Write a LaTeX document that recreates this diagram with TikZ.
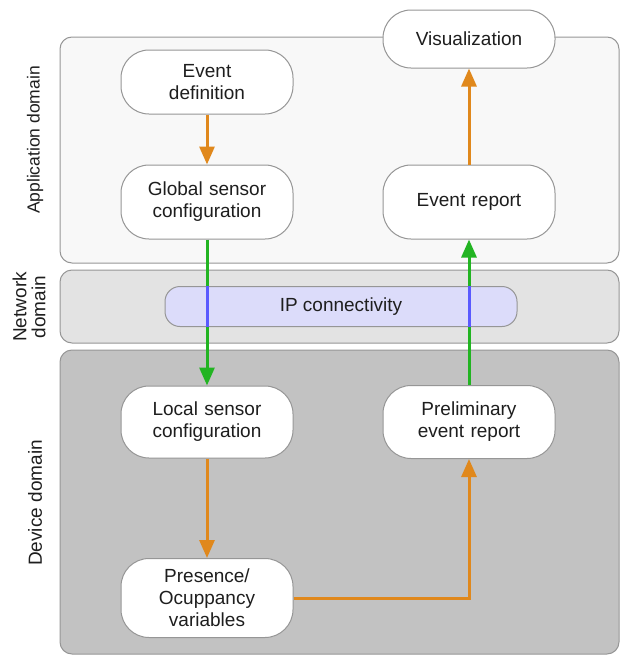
\documentclass[tikz,border=0pt]{standalone}
\usepackage{fontspec}
\setmainfont{Liberation Sans}
\usetikzlibrary{arrows.meta}
\definecolor{orng}{RGB}{224,136,28}
\definecolor{grn}{RGB}{34,180,34}
\definecolor{blu}{RGB}{90,90,255}
\definecolor{appfill}{RGB}{248,248,248}
\definecolor{netfill}{RGB}{227,227,227}
\definecolor{devfill}{RGB}{194,194,194}
\definecolor{edgegray}{RGB}{150,150,150}
\definecolor{ipfill}{RGB}{220,220,250}
\definecolor{txt}{RGB}{30,30,30}
\begin{document}
\begin{tikzpicture}[x=1pt,y=-1pt,
  font=\fontsize{19}{22}\selectfont,
  panel/.style={draw=edgegray, line width=1pt, rounded corners=12pt},
  box/.style={draw=edgegray, fill=white, line width=1pt, rounded corners=28pt,
    minimum width=172pt, text width=165pt, align=center, text=txt, inner sep=0pt},
  ipbox/.style={draw=edgegray, fill=ipfill, line width=1pt, rounded corners=15pt,
    minimum width=352pt, minimum height=40pt, text=txt, inner sep=0pt},
  domlabel/.style={rotate=90, align=center, text=txt, inner sep=0pt},
  arr/.style={line width=3pt, -{Triangle[length=18pt,width=15pt]}}]
\useasboundingbox (0,0) rectangle (622,656);
% panels
\draw[panel, fill=appfill] (60,37) rectangle (619,263);
\draw[panel, fill=netfill] (60,270) rectangle (619,343);
\draw[panel, fill=devfill] (60,350) rectangle (619,654);
% domain labels
\node[domlabel, font=\fontsize{17.5}{20}\selectfont] (lapp) at (35,140) {Application domain};
\node[domlabel, font=\fontsize{19}{19}\selectfont] (lnet) at (29,307) {Network\\domain};
\node[domlabel, font=\fontsize{19}{20}\selectfont] (ldev) at (35,503) {Device domain};
% nodes
\node[ipbox] (ip) at (341,306.5) {IP connectivity};
\node[box, minimum height=64pt] (evdef) at (207,82) {Event\\definition};
\node[box, minimum height=74pt] (glob) at (207,202) {Global sensor\\configuration};
\node[box, minimum height=58pt] (vis) at (469,39) {Visualization};
\node[box, minimum height=74pt] (rep) at (469,202) {Event report};
\node[box, minimum height=72pt] (local) at (207,422) {Local sensor\\configuration};
\node[box, minimum height=79pt] (pres) at (207,598) {Presence/\\Ocuppancy\\variables};
\node[box, minimum height=73pt] (prelim) at (469,422) {Preliminary\\event report};
% connectors
\draw[arr, orng] (evdef) -- (glob);
\draw[arr, grn] (glob) -- (local);
\draw[arr, orng] (local) -- (pres);
\draw[arr, orng] (pres.east) -| (prelim.south);
\draw[arr, grn] (prelim) -- (rep);
\draw[arr, orng] (rep) -- (vis);
% blue segments where the links cross the IP layer
\draw[blu, line width=3pt] (glob.south |- ip.north) -- (glob.south |- ip.south);
\draw[blu, line width=3pt] (rep.south |- ip.north) -- (rep.south |- ip.south);
\end{tikzpicture}
\end{document}
